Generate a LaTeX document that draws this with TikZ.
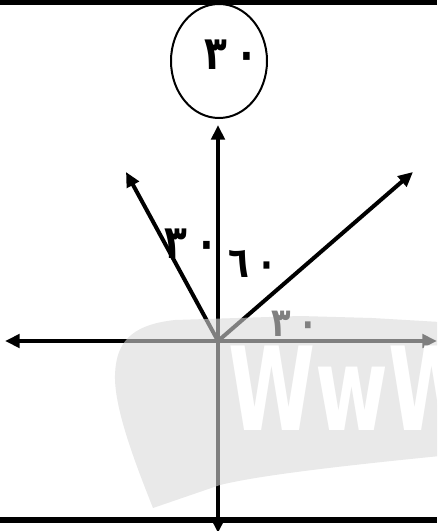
\documentclass[tikz,border=0pt]{standalone}
\usepackage{fontspec}
\usepackage{tikz}
\usetikzlibrary{arrows.meta,shapes.geometric}
\newfontfamily\digfont{DejaVu Sans}
\newfontfamily\wmfont{DejaVu Sans}
\definecolor{vcgray}{RGB}{128,128,128}
\newcommand\vcdig[2]{#1\hspace{0.22em}#2}
\tikzset{
  vcaxis/.style={{Triangle[length=11pt,width=10pt]}-{Triangle[length=11pt,width=10pt]},
    line width=3pt},
  vcray/.style={-{Triangle[length=11pt,width=10pt]}, line width=3pt},
  vcnum/.style={font=\digfont\bfseries\fontsize{35}{35}\selectfont, inner sep=0pt,
    xscale=0.8},
  vcbar/.style={line width=4.5pt},
  vcmark/.style={fill=black!15, fill opacity=0.59}
}

\begin{document}
\begin{tikzpicture}[x=0.75pt,y=-0.75pt]
  \useasboundingbox (0,0) rectangle (437,531);
  \clip (0,0) rectangle (437,531);
  \coordinate (tl) at (0,2.5);
  \coordinate (tr) at (437,2.5);
  \coordinate (bl) at (0,520);
  \coordinate (br) at (437,520);
  \draw[line width=3.75pt] (tl) -- (tr);
  \draw[vcbar] (bl) -- (br);
  \node[draw, ellipse, line width=1.5pt, minimum width=72pt, minimum height=85.5pt,
    inner sep=0pt] (ell) at (219,61) {};
  \node[vcnum] (n1) at (231,55) {\vcdig{٣}{٠}};
  \coordinate (O) at (218,341);
  \coordinate (W) at (5,341);
  \coordinate (E) at (437,341);
  \coordinate (N) at (218,125);
  \coordinate (S) at (218,533);
  \coordinate (A) at (126,172);
  \coordinate (B) at (413,172);
  \draw[vcaxis] (W) -- (E);
  \draw[vcaxis] (S) -- (N);
  \draw[vcray] (O) -- (A);
  \draw[vcray] (O) -- (B);
  \node[vcnum] (n2) at (191,244) {\vcdig{٣}{٠}};
  \node[vcnum, font=\digfont\bfseries\fontsize{32}{32}\selectfont] (n3) at (253,264) {\vcdig{٦}{٠}};
  % watermark
  \fill[vcmark] (153,508) .. controls (138,470) and (114,410) .. (115,375)
    .. controls (116,345) and (128,325) .. (175,320) -- (300,316) -- (372,318)
    -- (440,322) -- (440,456) .. controls (350,465) and (260,475) .. (220,485) -- cycle;
  \node[text=white, font=\wmfont\bfseries\fontsize{87}{87}\selectfont, xscale=0.68,
    anchor=base west, inner sep=0pt] (wm) at (228,430) {WwW};
  \node[vcnum, text=vcgray, font=\digfont\bfseries\fontsize{30}{30}\selectfont] (n4) at (295,324) {\vcdig{٣}{٠}};
\end{tikzpicture}
\end{document}
